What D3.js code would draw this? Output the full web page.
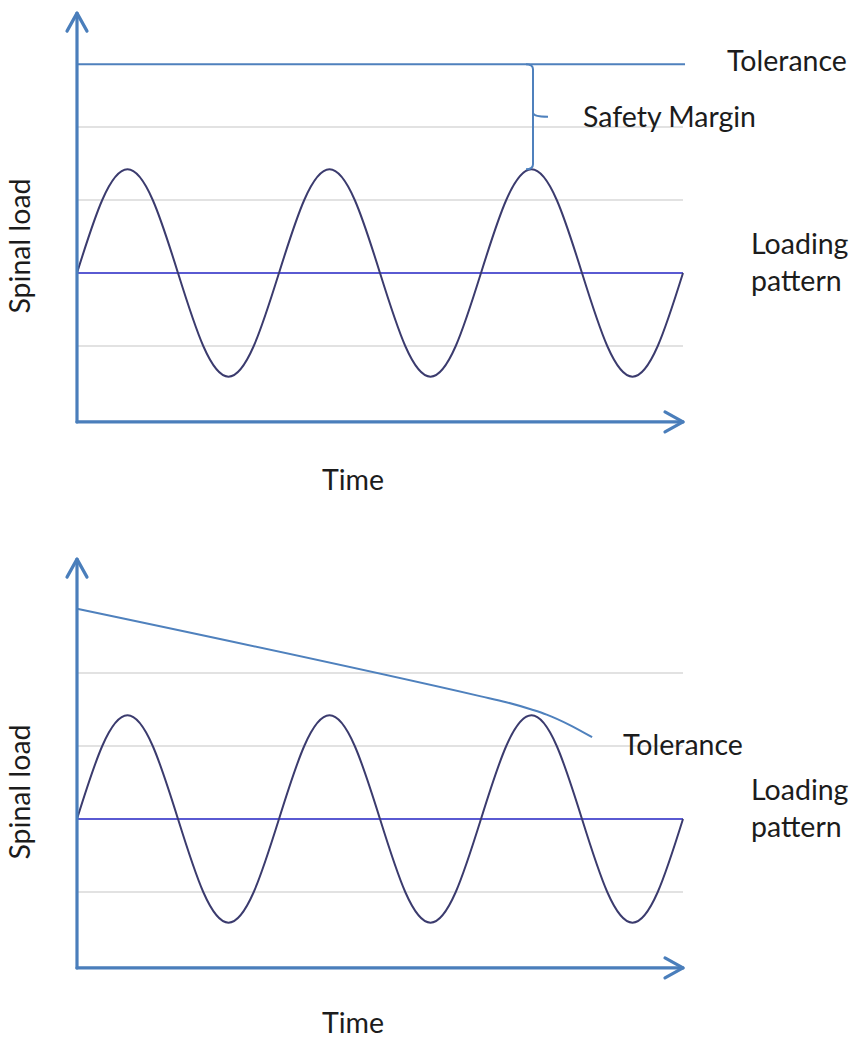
<!DOCTYPE html>
<html>
<head>
<meta charset="utf-8">
<script src="https://cdn.jsdelivr.net/npm/d3@7"></script>
<style>
  html, body { margin: 0; padding: 0; background: #fff; }
  svg { display: block; }
</style>
</head>
<body>
<script>
// ---- Data ----
// time axis in eighth-periods (3 periods of the loading cycle)
const timeSteps = d3.range(0, 25);
// loading pattern read at every eighth of a period
const loadingPattern = [2, 3.0, 3.42, 3.0, 2, 1.0, 0.58, 1.0,
                        2, 3.0, 3.42, 3.0, 2, 1.0, 0.58, 1.0,
                        2, 3.0, 3.42, 3.0, 2, 1.0, 0.58, 1.0, 2];
const meanLoad = 2;
const gridValues = [1, 2, 3, 4];
// panel 1: constant tolerance
const toleranceConstant = 4.86;
// panel 2: decreasing tolerance (time, load)
const toleranceTime = [0, 16, 17, 18, 18.6, 19.5, 20.4];
const toleranceDecreasing = [4.88, 3.68, 3.6, 3.5, 3.43, 3.29, 3.12];
const peakTime = 18;
const peakLoad = 3.42;
const labelTolerance = "Tolerance";
const labelSafety = "Safety Margin";
const labelLoading = ["Loading", "pattern"];
const labelX = "Time";
const labelY = "Spinal load";

// ---- Layout ----
const W = 853, H = 1040;
const panelOffsets = [0, 546];
const timeLabelY = [490, 487];
const x = d3.scaleLinear().domain([0, 24]).range([77, 683]);
const y = d3.scaleLinear().domain([0, 5]).range([419, 54]);
const axisBottom = -0.04, axisTop = 5.56;

const axisColor = "#4a7ebb";
const tolColor = "#4f81bd";
const meanColor = "#5a5ad2";
const waveColor = "#3b3b6e";
const gridColor = "#d9d9d9";
const textColor = "#1c1c1c";
const fontFam = "Lato, 'Open Sans', 'Noto Sans', sans-serif";
const fs = 28.5;

const svg = d3.select("body").append("svg").attr("width", W).attr("height", H);

panelOffsets.forEach((off, pi) => {
  const g = svg.append("g").attr("transform", `translate(0,${off})`);

  // gridlines
  g.append("g").selectAll("line").data(gridValues).join("line")
    .attr("x1", x(0)).attr("x2", x(24))
    .attr("y1", d => y(d)).attr("y2", d => y(d))
    .attr("stroke", gridColor).attr("stroke-width", 1.5);

  // mean line
  g.append("line")
    .attr("x1", x(0)).attr("x2", x(24))
    .attr("y1", y(meanLoad)).attr("y2", y(meanLoad))
    .attr("stroke", meanColor).attr("stroke-width", 2);

  // loading pattern
  const line = d3.line().x((d, i) => x(timeSteps[i])).y(d => y(d)).curve(d3.curveNatural);
  g.append("path").datum(loadingPattern).attr("d", line)
    .attr("fill", "none").attr("stroke", waveColor).attr("stroke-width", 2);

  if (pi === 0) {
    g.append("line")
      .attr("x1", x(0)).attr("x2", x(24.08))
      .attr("y1", y(toleranceConstant)).attr("y2", y(toleranceConstant))
      .attr("stroke", tolColor).attr("stroke-width", 2);
    // brace
    const bx = x(peakTime) + 1.5, t = y(toleranceConstant), b = y(peakLoad), m = (t + b) / 2;
    const p = d3.path();
    p.moveTo(bx - 7, t); p.quadraticCurveTo(bx, t, bx, t + 5);
    p.lineTo(bx, m - 4); p.quadraticCurveTo(bx, m, bx + 15, m);
    p.moveTo(bx, m - 4); p.quadraticCurveTo(bx, m, bx, m + 4);
    p.lineTo(bx, b - 5); p.quadraticCurveTo(bx, b, bx - 7, b);
    g.append("path").attr("d", p.toString()).attr("fill", "none")
      .attr("stroke", tolColor).attr("stroke-width", 2);
    g.append("text").attr("x", 727).attr("y", 71).text(labelTolerance);
    g.append("text").attr("x", 583).attr("y", 127).text(labelSafety);
  } else {
    const tl = d3.line().x((d, i) => x(toleranceTime[i])).y(d => y(d)).curve(d3.curveMonotoneX);
    g.append("path").datum(toleranceDecreasing).attr("d", tl)
      .attr("fill", "none").attr("stroke", tolColor).attr("stroke-width", 2);
    g.append("text").attr("x", 623).attr("y", 209).text(labelTolerance);
  }

  // axes
  const ax = g.append("g").attr("stroke", axisColor).attr("stroke-width", 3.2)
    .attr("stroke-linecap", "round").attr("fill", "none");
  ax.append("line").attr("x1", x(0)).attr("x2", x(0))
    .attr("y1", y(axisBottom)).attr("y2", y(axisTop));
  ax.append("line").attr("x1", x(0)).attr("x2", x(24))
    .attr("y1", y(axisBottom)).attr("y2", y(axisBottom));
  ax.append("path").attr("d",
    `M${x(0) - 10},${y(axisTop) + 18}L${x(0)},${y(axisTop)}L${x(0) + 10},${y(axisTop) + 18}`)
    .attr("stroke-linejoin", "round");
  ax.append("path").attr("d",
    `M${x(24) - 18},${y(axisBottom) - 10}L${x(24)},${y(axisBottom)}L${x(24) - 18},${y(axisBottom) + 10}`)
    .attr("stroke-linejoin", "round");

  // labels
  g.append("text").attr("x", 751).attr("y", 254).text(labelLoading[0]);
  g.append("text").attr("x", 751).attr("y", 291).text(labelLoading[1]);
  g.append("text").attr("x", 353).attr("y", timeLabelY[pi]).attr("text-anchor", "middle").text(labelX);
  g.append("text").attr("transform", "translate(30,246) rotate(-90)")
    .attr("text-anchor", "middle").text(labelY);

  g.selectAll("text").attr("font-family", fontFam).attr("font-size", fs).attr("fill", textColor);
});
</script>
</body>
</html>
